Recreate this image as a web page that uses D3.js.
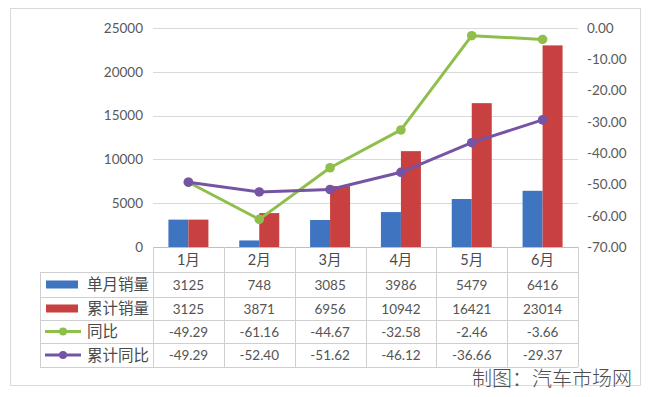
<!DOCTYPE html>
<html lang="zh">
<head>
<meta charset="UTF-8">
<title>销量</title>
<script src="https://d3js.org/d3.v7.min.js"></script>
<style>
  body { margin: 0; background: #fff; }
  text { font-family: Lato, "Noto Sans CJK SC", sans-serif; fill: #4a4a4a; }
</style>
</head>
<body>
<svg id="chart" width="650" height="397"></svg>
<script>
// data
const months = ["1月", "2月", "3月", "4月", "5月", "6月"];
const monthly = [3125, 748, 3085, 3986, 5479, 6416];
const cumulative = [3125, 3871, 6956, 10942, 16421, 23014];
const yoy = [-49.29, -61.16, -44.67, -32.58, -2.46, -3.66];
const cumYoy = [-49.29, -52.40, -51.62, -46.12, -36.66, -29.37];
const leftTicks = [0, 5000, 10000, 15000, 20000, 25000];
const rightTicks = [0, -10, -20, -30, -40, -50, -60, -70];

const blue = "#3f74c0", red = "#c8403f", green = "#8fbf4b", purple = "#7554a6";

const svg = d3.select("#chart");
const plot = {left: 153, right: 578, top: 28, bottom: 247};

// outer frame
svg.append("rect")
    .attr("x", 10.5).attr("y", 8.5)
    .attr("width", 630).attr("height", 377)
    .attr("fill", "#fff").attr("stroke", "#d9d9d9");

const x = d3.scaleBand().domain(months).range([plot.left, plot.right]);
const y = d3.scaleLinear().domain([0, 25000]).range([plot.bottom, plot.top]);
const y2 = d3.scaleLinear().domain([-70, 0]).range([plot.bottom, plot.top]);
const xs = d3.scaleBand().domain(["m", "c"])
    .range([x.bandwidth() / 2 - 20, x.bandwidth() / 2 + 20]);

// grid
svg.append("g")
    .selectAll("line")
    .data(leftTicks.slice(1))
    .join("line")
    .attr("x1", plot.left).attr("x2", plot.right)
    .attr("y1", d => Math.round(y(d)) + 0.5).attr("y2", d => Math.round(y(d)) + 0.5)
    .attr("stroke", "#d9d9d9");

// left axis
const la = svg.append("g")
    .attr("transform", `translate(${plot.left - 10},0)`)
    .call(d3.axisLeft(y).tickValues(leftTicks).tickSize(0).tickPadding(0).tickFormat(d => String(d)));
la.select(".domain").remove();
la.selectAll("text").attr("font-size", "13.5px").style("fill", "#595959")
    .style("font-family", "Lato, sans-serif");

// right axis
const ra = svg.append("g")
    .attr("transform", `translate(${plot.right + 9},0)`)
    .call(d3.axisRight(y2).tickValues(rightTicks).tickSize(0).tickPadding(0).tickFormat(d => d.toFixed(2)));
ra.select(".domain").remove();
ra.selectAll("text").attr("font-size", "13.5px").style("fill", "#595959")
    .style("font-family", "Lato, sans-serif");

// bars
const groups = svg.append("g").selectAll("g")
    .data(months)
    .join("g")
    .attr("transform", d => `translate(${x(d)},0)`);

groups.append("rect")
    .attr("x", (d, i) => xs("m"))
    .attr("width", xs.bandwidth())
    .attr("y", (d, i) => y(monthly[i]))
    .attr("height", (d, i) => y(0) - y(monthly[i]))
    .attr("fill", blue);

groups.append("rect")
    .attr("x", (d, i) => xs("c"))
    .attr("width", xs.bandwidth())
    .attr("y", (d, i) => y(cumulative[i]))
    .attr("height", (d, i) => y(0) - y(cumulative[i]))
    .attr("fill", red);

// lines
function drawLine(vals, color) {
    const line = d3.line()
        .x((d, i) => x(months[i]) + x.bandwidth() / 2)
        .y(d => y2(d));
    svg.append("path")
        .datum(vals)
        .attr("d", line)
        .attr("fill", "none")
        .attr("stroke", color)
        .attr("stroke-width", 3)
        .attr("stroke-linejoin", "round");
    svg.append("g").selectAll("circle")
        .data(vals)
        .join("circle")
        .attr("cx", (d, i) => x(months[i]) + x.bandwidth() / 2)
        .attr("cy", d => y2(d))
        .attr("r", 4.8)
        .attr("fill", color);
}
drawLine(yoy, green);
drawLine(cumYoy, purple);

// data table
const rowLines = [247, 272, 297, 320, 343, 367];
const tableLeft = 40;
const grid = "#cfcfcf";
const tbl = svg.append("g");

// horizontal lines (header row only spans the plot)
rowLines.forEach((ry, i) => {
    tbl.append("line")
        .attr("x1", i < 1 ? plot.left : tableLeft).attr("x2", plot.right)
        .attr("y1", ry + 0.5).attr("y2", ry + 0.5)
        .attr("stroke", i === 0 ? "#bfbfbf" : grid);
});
// vertical lines
const vx = months.map(m => x(m)).concat([plot.right]);
vx.forEach(vxi => {
    tbl.append("line")
        .attr("x1", Math.round(vxi) + 0.5).attr("x2", Math.round(vxi) + 0.5)
        .attr("y1", rowLines[0]).attr("y2", rowLines[5])
        .attr("stroke", grid);
});
tbl.append("line")
    .attr("x1", tableLeft + 0.5).attr("x2", tableLeft + 0.5)
    .attr("y1", rowLines[1]).attr("y2", rowLines[5])
    .attr("stroke", grid);

// header months
tbl.selectAll("text.month")
    .data(months)
    .join("text")
    .attr("class", "month")
    .attr("x", d => x(d) + x.bandwidth() / 2)
    .attr("y", (rowLines[0] + rowLines[1]) / 2 + 5)
    .attr("text-anchor", "middle")
    .attr("font-size", "14.5px")
    .text(d => d);

const rows = [
    {name: "单月销量", vals: monthly.map(String), color: blue, type: "bar"},
    {name: "累计销量", vals: cumulative.map(String), color: red, type: "bar"},
    {name: "同比", vals: yoy.map(v => v.toFixed(2)), color: green, type: "line"},
    {name: "累计同比", vals: cumYoy.map(v => v.toFixed(2)), color: purple, type: "line"}
];

rows.forEach((r, ri) => {
    const cy = (rowLines[ri + 1] + rowLines[ri + 2]) / 2;
    if (r.type === "bar") {
        tbl.append("rect")
            .attr("x", 46).attr("y", cy - 4)
            .attr("width", 32).attr("height", 8)
            .attr("fill", r.color);
    } else {
        tbl.append("line")
            .attr("x1", 45).attr("x2", 81)
            .attr("y1", cy).attr("y2", cy)
            .attr("stroke", r.color).attr("stroke-width", 3);
        tbl.append("circle")
            .attr("cx", 63).attr("cy", cy).attr("r", 4)
            .attr("fill", r.color);
    }
    tbl.append("text")
        .attr("x", 87).attr("y", cy + 5.5)
        .attr("font-size", "15.5px")
        .style("font-family", "'Noto Sans CJK SC', sans-serif")
        .text(r.name);
    tbl.selectAll(null)
        .data(r.vals)
        .join("text")
        .attr("x", (d, i) => x(months[i]) + x.bandwidth() / 2)
        .attr("y", cy + 5)
        .attr("text-anchor", "middle")
        .attr("font-size", "13.5px")
        .style("font-family", "Lato, sans-serif")
        .style("fill", "#555")
        .text(d => d);
});

// source note
svg.append("text")
    .attr("x", 632).attr("y", 386)
    .attr("text-anchor", "end")
    .attr("font-size", "20px")
    .style("font-family", "'Noto Sans CJK SC', sans-serif")
    .style("font-weight", 300)
    .style("fill", "#4d4d4d")
    .text("制图：汽车市场网");
</script>
</body>
</html>
